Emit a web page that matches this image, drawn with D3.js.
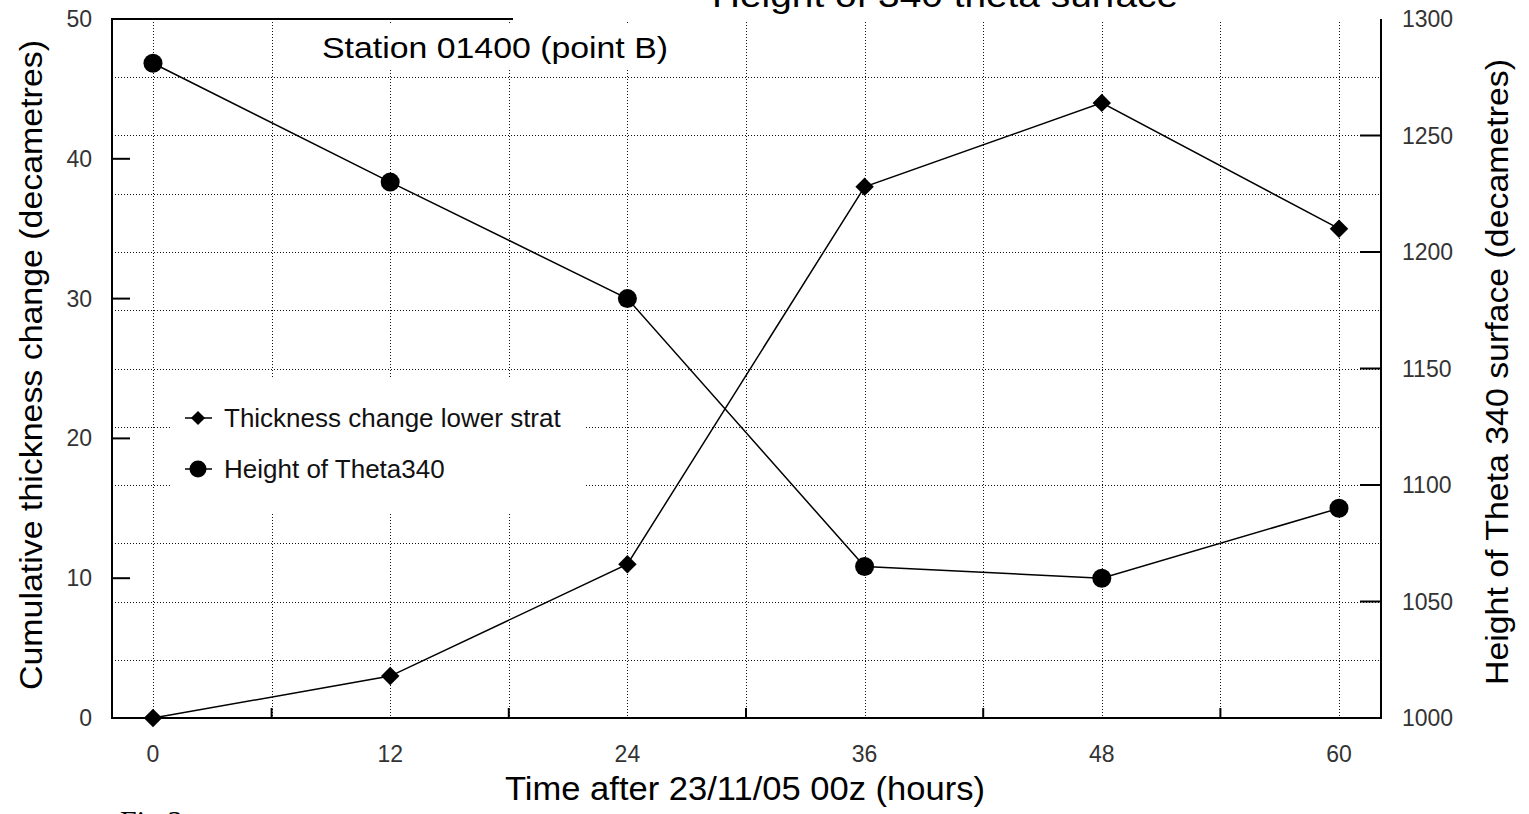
<!DOCTYPE html>
<html>
<head>
<meta charset="utf-8">
<script src="https://cdn.jsdelivr.net/npm/d3@7"></script>
<style>
  body { margin: 0; background: #fff; overflow: hidden; }
  text { font-family: "Liberation Sans", Arial, sans-serif; }
</style>
</head>
<body>
<svg id="drawing_region"></svg>
<script>
// data
const hours = [0, 12, 24, 36, 48, 60];
const thickness = [0, 3, 11, 38, 44, 35];
const thetaHeight = [1281, 1230, 1180, 1065, 1060, 1090];

const xTicks = [0, 12, 24, 36, 48, 60];
const xMinorTicks = [6, 18, 30, 42, 54];
const xGrid = [0, 6, 12, 18, 24, 30, 36, 42, 48, 54, 60];
const leftTicks = [0, 10, 20, 30, 40, 50];
const rightTicks = [1000, 1050, 1100, 1150, 1200, 1250, 1300];
const rightGrid = [1025, 1050, 1075, 1100, 1125, 1150, 1175, 1200, 1225, 1250, 1275];

const seriesNames = ["Thickness change lower strat", "Height of Theta340"];

const config = {
    width: 1529,
    height: 814,
    left: 112, right: 1381, top: 19, bottom: 718
};

const svg = d3.select('#drawing_region')
    .attr('width', config.width)
    .attr('height', config.height);

const xscale = d3.scaleLinear().domain([0, 60]).range([153, 1339]);
const yleft = d3.scaleLinear().domain([0, 50]).range([config.bottom, config.top]);
const yright = d3.scaleLinear().domain([1000, 1300]).range([config.bottom, config.top]);

// gridlines
const grid = svg.append('g')
    .attr('stroke', '#111')
    .attr('stroke-width', 1)
    .attr('stroke-dasharray', '1,2');

grid.selectAll('.vg').data(xGrid).enter()
    .append('line')
    .attr('x1', d => Math.round(xscale(d)) + 0.5)
    .attr('x2', d => Math.round(xscale(d)) + 0.5)
    .attr('y1', 22)
    .attr('y2', config.bottom);

grid.selectAll('.hg').data(rightGrid).enter()
    .append('line')
    .attr('x1', config.left)
    .attr('x2', config.right)
    .attr('y1', d => Math.round(yright(d)) + 0.5)
    .attr('y2', d => Math.round(yright(d)) + 0.5);

// white boxes behind station label and legend
svg.append('rect').attr('x', 290).attr('y', 24).attr('width', 400).attr('height', 44).attr('fill', '#fff');
svg.append('rect').attr('x', 170).attr('y', 377).attr('width', 416).attr('height', 135).attr('fill', '#fff');

// frame
const frame = svg.append('g').attr('stroke', '#000').attr('stroke-width', 2).attr('fill', 'none');
frame.append('line').attr('x1', config.left).attr('x2', config.left).attr('y1', config.top).attr('y2', config.bottom);
frame.append('line').attr('x1', config.right).attr('x2', config.right).attr('y1', config.top).attr('y2', config.bottom);
frame.append('line').attr('x1', config.left - 1).attr('x2', config.right + 1).attr('y1', config.bottom).attr('y2', config.bottom);
frame.append('line').attr('x1', config.left - 1).attr('x2', 513).attr('y1', config.top).attr('y2', config.top);

// solid ticks
frame.selectAll('.lt').data(leftTicks.slice(1, -1)).enter()
    .append('line')
    .attr('x1', config.left).attr('x2', config.left + 18)
    .attr('y1', d => yleft(d)).attr('y2', d => yleft(d));

frame.selectAll('.rt').data(rightTicks.slice(1, -1)).enter()
    .append('line')
    .attr('x1', config.right).attr('x2', config.right - 21)
    .attr('y1', d => yright(d)).attr('y2', d => yright(d));

frame.selectAll('.bt').data(xMinorTicks).enter()
    .append('line')
    .attr('x1', d => xscale(d)).attr('x2', d => xscale(d))
    .attr('y1', config.bottom).attr('y2', config.bottom - 10);

// tick labels
const tickFont = { size: 23, fill: '#333' };

svg.selectAll('.xl').data(xTicks).enter()
    .append('text')
    .attr('x', d => xscale(d))
    .attr('y', 762)
    .attr('text-anchor', 'middle')
    .attr('font-size', tickFont.size)
    .attr('fill', tickFont.fill)
    .text(d => d);

svg.selectAll('.yl').data(leftTicks).enter()
    .append('text')
    .attr('x', 92)
    .attr('y', d => yleft(d) + 8)
    .attr('text-anchor', 'end')
    .attr('font-size', tickFont.size)
    .attr('fill', tickFont.fill)
    .text(d => d);

svg.selectAll('.yr').data(rightTicks).enter()
    .append('text')
    .attr('x', 1402)
    .attr('y', d => yright(d) + 8)
    .attr('text-anchor', 'start')
    .attr('font-size', tickFont.size)
    .attr('fill', tickFont.fill)
    .text(d => d);

// axis titles
svg.append('text')
    .attr('transform', 'translate(42, 365) rotate(-90)')
    .attr('text-anchor', 'middle')
    .attr('font-size', 31)
    .attr('textLength', 650)
    .attr('lengthAdjust', 'spacingAndGlyphs')
    .text('Cumulative thickness change (decametres)');

svg.append('text')
    .attr('transform', 'translate(1508, 372) rotate(-90)')
    .attr('text-anchor', 'middle')
    .attr('font-size', 31)
    .attr('textLength', 626)
    .attr('lengthAdjust', 'spacingAndGlyphs')
    .text('Height of Theta 340 surface (decametres)');

svg.append('text')
    .attr('x', 745)
    .attr('y', 800)
    .attr('text-anchor', 'middle')
    .attr('font-size', 33)
    .attr('textLength', 480)
    .attr('lengthAdjust', 'spacingAndGlyphs')
    .text('Time after 23/11/05 00z (hours)');

// title, cut off at the top as in the original
svg.append('text')
    .attr('x', 945)
    .attr('y', 7)
    .attr('text-anchor', 'middle')
    .attr('font-size', 33)
    .attr('textLength', 466)
    .attr('lengthAdjust', 'spacingAndGlyphs')
    .text('Height of 340 theta surface');

svg.append('text')
    .attr('x', 322)
    .attr('y', 58)
    .attr('font-size', 30)
    .attr('textLength', 346)
    .attr('lengthAdjust', 'spacingAndGlyphs')
    .text('Station 01400 (point B)');

svg.append('text')
    .attr('x', 120)
    .attr('y', 831)
    .style('font-family', '"Liberation Serif", serif')
    .attr('font-size', 30)
    .text('Fig 3');

// series
const thickData = hours.map((h, i) => ({ h: h, v: thickness[i] }));
const thetaData = hours.map((h, i) => ({ h: h, v: thetaHeight[i] }));

const lineL = d3.line().x(d => xscale(d.h)).y(d => yleft(d.v));
const lineR = d3.line().x(d => xscale(d.h)).y(d => yright(d.v));

svg.append('path').datum(thickData)
    .attr('d', lineL)
    .attr('fill', 'none').attr('stroke', '#000').attr('stroke-width', 1.5);

svg.append('path').datum(thetaData)
    .attr('d', lineR)
    .attr('fill', 'none').attr('stroke', '#000').attr('stroke-width', 1.5);

const diamond = d3.symbol().type(d3.symbolSquare).size(170);

svg.selectAll('.dm').data(thickData).enter()
    .append('path')
    .attr('d', diamond)
    .attr('transform', d => `translate(${xscale(d.h)}, ${yleft(d.v)}) rotate(45)`)
    .attr('fill', '#000');

svg.selectAll('.cm').data(thetaData).enter()
    .append('circle')
    .attr('cx', d => xscale(d.h))
    .attr('cy', d => yright(d.v))
    .attr('r', 9.5)
    .attr('fill', '#000');

// legend
const legend = svg.append('g');
seriesNames.forEach((name, i) => {
    const y = 418 + i * 51;
    legend.append('line')
        .attr('x1', 185).attr('x2', 212)
        .attr('y1', y).attr('y2', y)
        .attr('stroke', '#000').attr('stroke-width', 1.5);
    if (i === 0) {
        legend.append('path')
            .attr('d', d3.symbol().type(d3.symbolSquare).size(100))
            .attr('transform', `translate(198, ${y}) rotate(45)`)
            .attr('fill', '#000');
    } else {
        legend.append('circle')
            .attr('cx', 198).attr('cy', y).attr('r', 8.5)
            .attr('fill', '#000');
    }
    legend.append('text')
        .attr('x', 224)
        .attr('y', y + 9)
        .attr('font-size', 26)
        .attr('fill', '#111')
        .text(name);
});
</script>
</body>
</html>
